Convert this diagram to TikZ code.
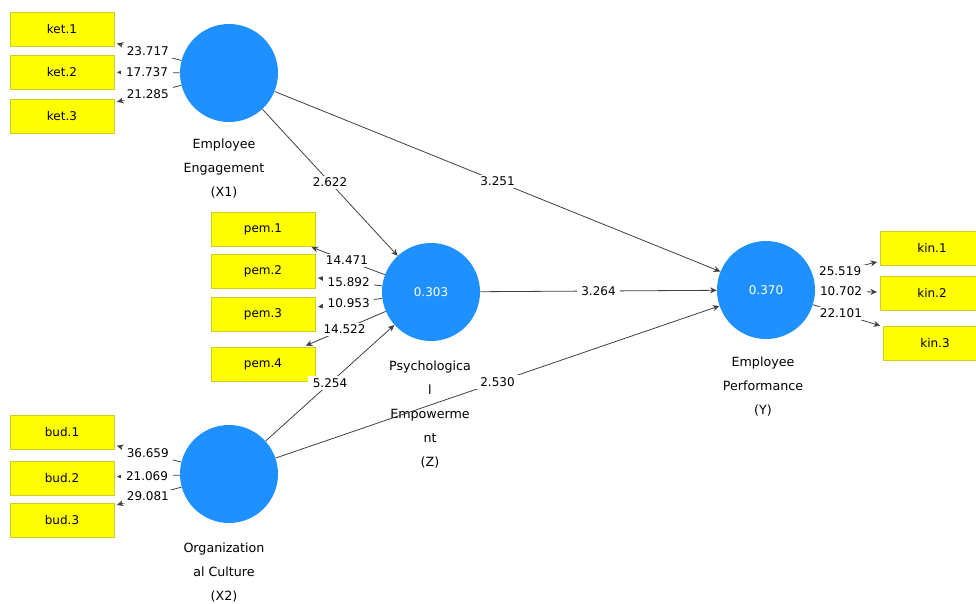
\documentclass[tikz,border=0pt]{standalone}
\usepackage{fontspec}
\setmainfont{DejaVu Sans}
\usetikzlibrary{arrows.meta}
\definecolor{lvblue}{RGB}{30,144,255}
\definecolor{mvyellow}{RGB}{255,255,0}
\definecolor{mvedge}{RGB}{205,205,40}
\begin{document}
\begin{tikzpicture}[x=0.75pt,y=-0.75pt,
    latent/.style={circle,fill=lvblue,minimum size=73.5pt,inner sep=0pt,text=white,font=\fontsize{9}{11}\selectfont},
    indicator/.style={rectangle,fill=mvyellow,draw=mvedge,line width=0.4pt,minimum width=78pt,minimum height=25.5pt,inner sep=0pt,font=\fontsize{9}{11}\selectfont},
    lvname/.style={align=center,font=\fontsize{9.5}{18}\selectfont},
    coef/.style={fill=white,inner xsep=3.5pt,inner ysep=1.5pt,font=\fontsize{9}{11}\selectfont},
    path/.style={draw=black!75,line width=0.6pt,-{Stealth[length=5pt,width=4.5pt]}},
    loading/.style={path,shorten >=2pt}]
        \useasboundingbox (0,0) rectangle (976,604);

        % latent variables
        \node[latent] (X1) at (229,73){};
        \node[latent] (X2) at (229,474){};
        \node[latent] (Z) at (431,292){0.303};
        \node[latent] (Y) at (766,290){0.370};

        \node[lvname] (X1name) at (224,169){Employee\\Engagement\\(X1)};
        \node[lvname] (X2name) at (224,573){Organization\\al Culture\\(X2)};
        \node[lvname] (Zname) at (430,415){Psychologica\\l\\Empowerme\\nt\\(Z)};
        \node[lvname] (Yname) at (763,387){Employee\\Performance\\(Y)};

        % indicators
        \node[indicator] (ket1) at (62,29){ket.1};
        \node[indicator] (ket2) at (62,72){ket.2};
        \node[indicator] (ket3) at (62,116){ket.3};
        \node[indicator] (pem1) at (263,229){pem.1};
        \node[indicator] (pem2) at (263,271){pem.2};
        \node[indicator] (pem3) at (263,314){pem.3};
        \node[indicator] (pem4) at (263,364){pem.4};
        \node[indicator] (bud1) at (62,432){bud.1};
        \node[indicator] (bud2) at (62,478){bud.2};
        \node[indicator] (bud3) at (62,520){bud.3};
        \node[indicator] (kin1) at (932,248){kin.1};
        \node[indicator] (kin2) at (932,293){kin.2};
        \node[indicator] (kin3) at (935,343){kin.3};

        % inner model
        \draw[path] (X1)--(Z) node[coef,midway]{2.622};
        \draw[path] (X1)--(Y) node[coef,midway]{3.251};
        \draw[path] (Z)--(Y) node[coef,midway]{3.264};
        \draw[path] (X2)--(Z) node[coef,midway]{5.254};
        \draw[path] (X2)--(Y) node[coef,midway]{2.530};

        % outer model
        \draw[loading] (X1)--(ket1) node[coef,midway]{23.717};
        \draw[loading] (X1)--(ket2) node[coef,midway]{17.737};
        \draw[loading] (X1)--(ket3) node[coef,midway]{21.285};
        \draw[loading] (Z)--(pem1) node[coef,midway]{14.471};
        \draw[loading] (Z)--(pem2) node[coef,midway]{15.892};
        \draw[loading] (Z)--(pem3) node[coef,midway]{10.953};
        \draw[loading] (Z)--(pem4) node[coef,midway]{14.522};
        \draw[loading] (X2)--(bud1) node[coef,midway]{36.659};
        \draw[loading] (X2)--(bud2) node[coef,midway]{21.069};
        \draw[loading] (X2)--(bud3) node[coef,midway]{29.081};
        \draw[loading] (Y)--(kin1) node[coef,pos=0.4]{25.519};
        \draw[loading] (Y)--(kin2) node[coef,pos=0.4]{10.702};
        \draw[loading] (Y)--(kin3) node[coef,pos=0.4]{22.101};
\end{tikzpicture}
\end{document}
